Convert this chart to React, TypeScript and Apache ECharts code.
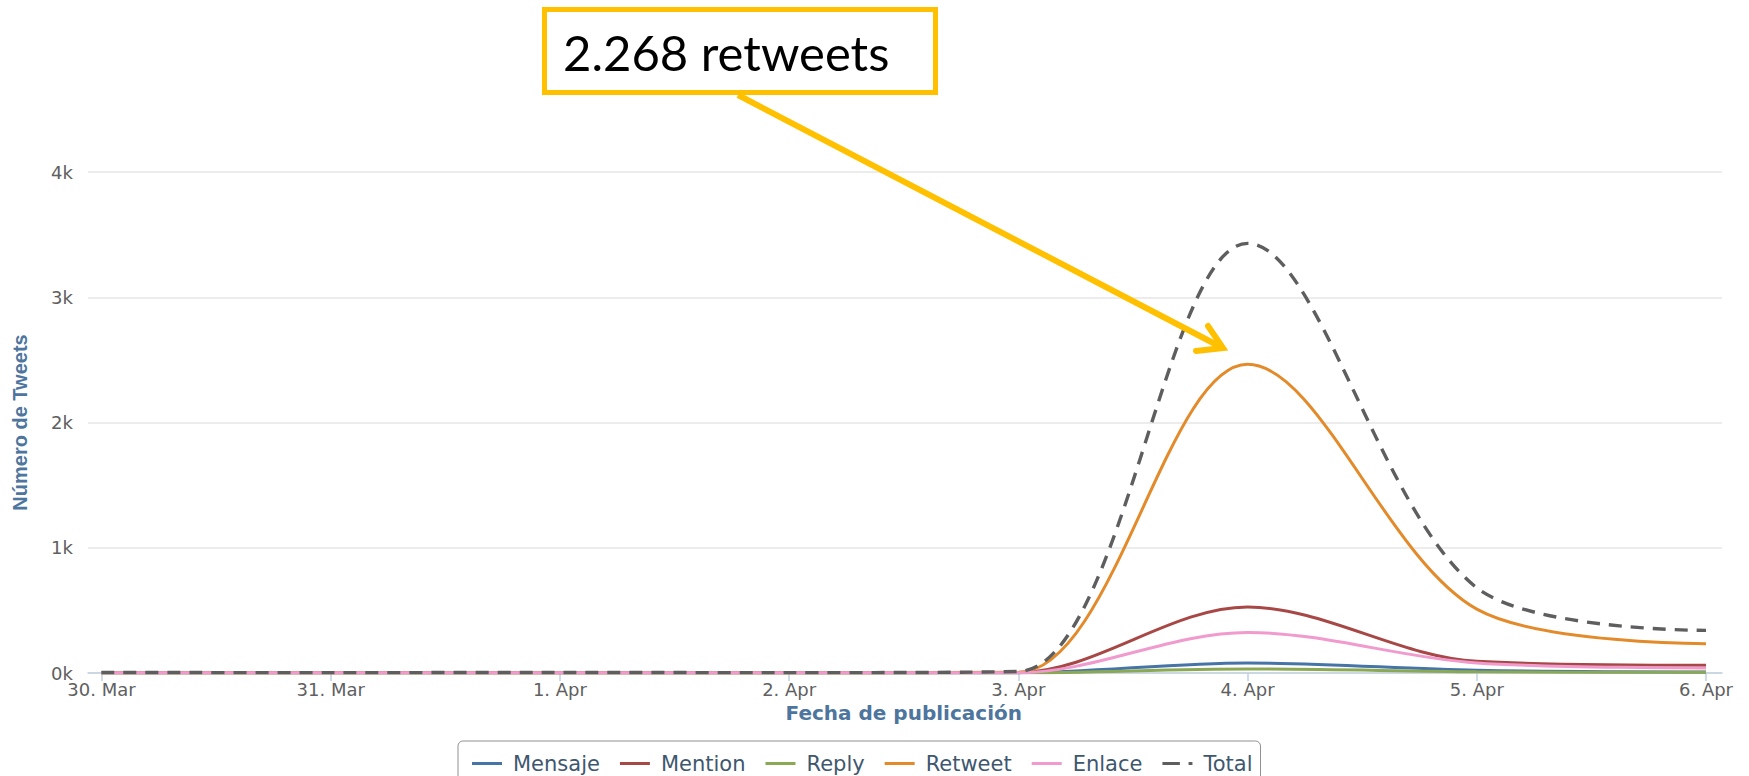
import React, { useEffect, useRef } from "react";
import * as echarts from "echarts";

const categories = ["30. Mar", "31. Mar", "1. Apr", "2. Apr", "3. Apr", "4. Apr", "5. Apr", "6. Apr"];
const seriesNames = ["Mensaje", "Mention", "Reply", "Retweet", "Enlace", "Total"];
const mensaje = [1, 1, 1, 1, 2, 80, 21, 8];
const mention = [1, 1, 1, 1, 3, 527, 93, 61];
const reply = [0, 0, 0, 0, 1, 32, 10, 5];
const retweet = [2, 1, 2, 1, 5, 2465, 510, 234];
const enlace = [1, 1, 1, 1, 2, 324, 80, 40];
const total = [4, 3, 4, 3, 12, 3430, 680, 340];
const seriesColors = ["#4674A6", "#A84846", "#8BA955", "#E38A2A", "#F09ACD", "#5E5E5E"];
const annotationText = "2.268 retweets";

const lineIcon = "path://M0,0h30v3h-30z";
const dashDotIcon = "path://M0,0h18v3h-18zM27,0h4v3h-4z";

export default function App() {
  const ref = useRef<HTMLDivElement>(null);
  useEffect(() => {
    document.body.style.margin = "0";
    const chart = echarts.init(ref.current!, undefined, { renderer: "svg" });
    const values = [mensaje, mention, reply, retweet, enlace, total];
    const series = seriesNames.map((name, i) => ({
      name,
      type: "line",
      xAxisIndex: 1,
      yAxisIndex: 1,
      data: values[i],
      smooth: 0.33,
      symbol: "none",
      showSymbol: false,
      color: seriesColors[i],
      lineStyle: {
        width: i === 5 ? 3.4 : 3,
        color: seriesColors[i],
        type: i === 5 ? [13, 9] : "solid",
      },
      z: 2 + i,
    }));
    const labelFont = "DejaVu Sans";
    chart.setOption({
      animation: false,
      backgroundColor: "#ffffff",
      grid: [
        { left: 88, right: 27, top: 172, bottom: 103 },
        { left: 101.5, right: 43, top: 172, bottom: 103 },
      ],
      xAxis: [
        {
          gridIndex: 0,
          type: "value",
          min: 0,
          max: 1,
          axisLine: { show: true, lineStyle: { color: "#C0D0E0", width: 1.5 } },
          axisTick: { show: false },
          axisLabel: { show: false },
          splitLine: { show: false },
        },
        {
          gridIndex: 1,
          type: "category",
          data: categories,
          boundaryGap: false,
          axisLine: { show: false },
          axisTick: { show: true, alignWithLabel: true, length: 8, interval: 0, lineStyle: { color: "#C0D0E0", width: 1.5 } },
          axisLabel: { interval: 0, fontSize: 18, fontFamily: labelFont, color: "#606060", margin: 7 },
          splitLine: { show: false },
          name: "Fecha de publicación",
          nameLocation: "middle",
          nameGap: 28,
          nameTextStyle: { fontSize: 20, fontWeight: "bold", fontFamily: labelFont, color: "#4D759E" },
        },
      ],
      yAxis: [
        {
          gridIndex: 0,
          type: "value",
          min: 0,
          max: 4000,
          interval: 1000,
          axisLine: { show: false },
          axisTick: { show: false },
          axisLabel: {
            formatter: (v: number) => `${v / 1000}k`,
            fontSize: 18,
            fontFamily: labelFont,
            color: "#606060",
            margin: 15,
            padding: [8, 0, 0, 0],
          },
          splitLine: { show: true, lineStyle: { color: "#E6E6E6", width: 1.5 } },
          name: "Número de Tweets",
          nameLocation: "middle",
          nameGap: 58,
          nameTextStyle: { fontSize: 20, fontWeight: "bold", fontFamily: "Liberation Sans", color: "#4D759E" },
        },
        {
          gridIndex: 1,
          type: "value",
          min: 0,
          max: 4000,
          interval: 1000,
          show: false,
          splitLine: { show: false },
        },
      ],
      legend: {
        data: seriesNames.map((name, i) => ({ name, icon: i === 5 ? dashDotIcon : lineIcon })),
        left: 458,
        top: 741,
        orient: "horizontal",
        padding: [12, 8, 12, 14],
        itemWidth: 30,
        itemHeight: 3,
        itemGap: 20,
        borderColor: "#909090",
        borderWidth: 1,
        borderRadius: 5,
        textStyle: { fontSize: 21, fontFamily: labelFont, color: "#3E576F", padding: [0, 0, 0, 6] },
      },
      series,
      graphic: [
        {
          type: "rect",
          shape: { x: 544.5, y: 9.5, width: 391, height: 83 },
          style: { fill: "#ffffff", stroke: "#FFC000", lineWidth: 5 },
          z: 100,
        },
        {
          type: "text",
          x: 563,
          y: 52,
          style: {
            text: annotationText,
            font: "49px Lato",
            fill: "#000000",
            verticalAlign: "middle",
            align: "left",
          },
          z: 101,
        },
        {
          type: "line",
          shape: { x1: 738, y1: 95, x2: 1219, y2: 346 },
          style: { stroke: "#FFC000", lineWidth: 6, lineCap: "butt" },
          z: 100,
        },
        {
          type: "polyline",
          shape: { points: [[1196, 351], [1223, 348], [1208, 326]] },
          style: { stroke: "#FFC000", lineWidth: 6, fill: "none", lineCap: "round", lineJoin: "miter" },
          z: 100,
        },
      ],
    });
    return () => chart.dispose();
  }, []);
  return (
    <div
      ref={ref}
      style={{ position: "absolute", left: 0, top: 0, width: 1749, height: 776 }}
    />
  );
}
